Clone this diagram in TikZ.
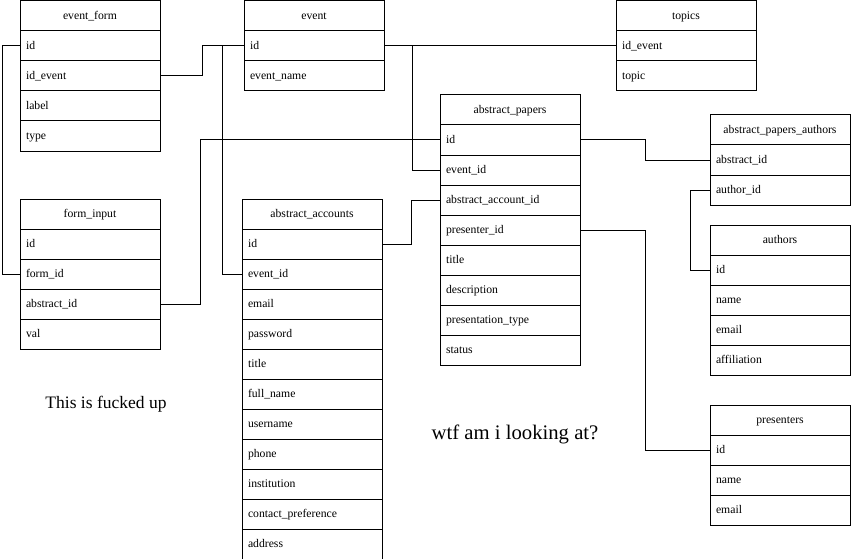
\documentclass[tikz,border=0pt]{standalone}
\usepackage{fontspec}
\setmainfont{Liberation Serif}
\usepackage{tikz}
\usetikzlibrary{positioning,calc}

% one table: name, north west corner, title, fields
\newcommand{\ertable}[4]{%
  \node[tblhead, anchor=north west] (#1) at (#2) {#3};
  \foreach \f [count=\i] in {#4} {
    \node[tblrow, anchor=north west, yshift={-30pt*(\i-1)}] (#1-\i) at (#1.south west) {\f};
  }%
}

\begin{document}
\begin{tikzpicture}[
			x=1pt, y=-1pt,
			line width=1pt,
			tblhead/.style={rectangle, draw, outer sep=0pt, minimum width=140pt, minimum height=30pt, text height=9pt, text depth=2pt, font=\fontsize{11.7}{14}\selectfont},
			tblrow/.style={tblhead, text width=128pt, inner xsep=0pt, align=left},
			link/.style={draw, line width=1pt},
			note/.style={font=\fontsize{17.5}{21}\selectfont}
			]
			\useasboundingbox (0,0) rectangle (851,559);
			
			% Tables
			\ertable{eform}{20,1}{event\_form}{id, id\_event, label, type}
			\ertable{event}{244,1}{event}{id, event\_name}
			\ertable{topics}{616,1}{topics}{id\_event, topic}
			\ertable{papers}{440,95}{abstract\_papers}{id, event\_id, abstract\_account\_id, presenter\_id, title, description, presentation\_type, status}
			\ertable{ppa}{710,115}{abstract\_papers\_authors}{abstract\_id, author\_id}
			\ertable{authors}{710,225}{authors}{id, name, email, affiliation}
			\ertable{presenters}{710,405}{presenters}{id, name, email}
			\ertable{finput}{20,199}{form\_input}{id, form\_id, abstract\_id, val}
			\ertable{accounts}{242,199}{abstract\_accounts}{id, event\_id, email, password, title, full\_name, username, phone, institution, contact\_preference, address}
			
			% Relations
			\draw[link] (eform-1.west) -- ++(-18,0) |- (finput-2.west);
			\draw[link] (eform-2.east) -- ++(42,0) |- (event-1.west);
			\draw[link] (event-1.west) -- ++(-22,0) |- (accounts-2.west);
			\draw[link] (event-1.east) -- (topics-1.west);
			\draw[link] (event-1.east) -- ++(28,0) |- (papers-2.west);
			\draw[link] (finput-3.east) -- ++(40,0) |- (papers-1.west);
			\draw[link] (accounts-1.east) -- ++(29,0) |- (papers-3.west);
			\draw[link] (papers-1.east) -- ++(65,0) |- (ppa-1.west);
			\draw[link] (ppa-2.west) -- ++(-20,0) |- (authors-1.west);
			\draw[link] (papers-4.east) -- ++(65,0) |- (presenters-1.west);
			
			% Notes
			\node[note] (rant) at (106,404) {This is fucked up};
			\node[note, font=\fontsize{20.7}{25}\selectfont] (wtf) at (515,434) {wtf am i looking at?};
			
\end{tikzpicture}
\end{document}
